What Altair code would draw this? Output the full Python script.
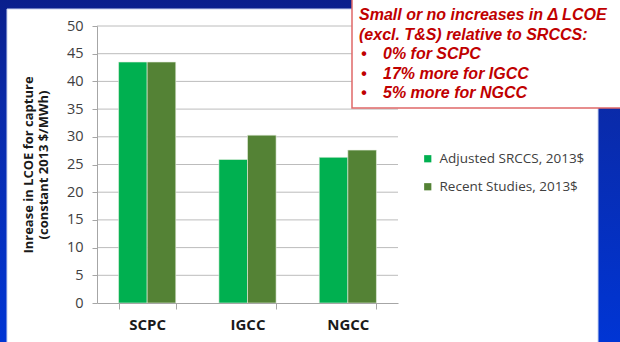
import altair as alt
import pandas as pd

categories = ["SCPC", "IGCC", "NGCC"]
series = ["Adjusted SRCCS,  2013$", "Recent  Studies, 2013$"]
adjusted_srccs = [43.5, 25.9, 26.3]
recent_studies = [43.5, 30.3, 27.6]
colors = ["#00B050", "#548235"]
y_ticks = list(range(0, 51, 5))
y_title = ["Inrease in LCOE for capture", "(constant 2013 $/MWh)"]
note_heading = ["Small or no increases in \u0394 LCOE", "(excl. T&S) relative to SRCCS:"]
note_bullets = ["0% for SCPC", "17% more for IGCC", "5% more for NGCC"]

rows = []
for i, c in enumerate(categories):
    rows.append({"cat": c, "series": series[0], "value": adjusted_srccs[i]})
    rows.append({"cat": c, "series": series[1], "value": recent_studies[i]})
df = pd.DataFrame(rows)
grid_df = pd.DataFrame({"value": y_ticks[1:]})

W, H = 301, 277
LEFT, TOP = 97, 26

one = pd.DataFrame({"k": [0]})

# slide background (blue gradient)
bg = alt.Chart(one).mark_rect(
    fill=alt.Gradient(gradient="linear", x1=0, y1=0, x2=0, y2=1,
                      stops=[alt.GradientStop(color="#0a1f8c", offset=0),
                             alt.GradientStop(color="#0a2aa8", offset=0.3),
                             alt.GradientStop(color="#0035d4", offset=1)])
).encode(x=alt.value(-LEFT), x2=alt.value(620 - LEFT), y=alt.value(-TOP), y2=alt.value(342 - TOP))

panel = alt.Chart(one).mark_rect(fill="white", stroke="#c9d3ee", strokeWidth=1).encode(
    x=alt.value(7 - LEFT), x2=alt.value(598 - LEFT), y=alt.value(9 - TOP), y2=alt.value(345 - TOP))

yscale = alt.Scale(domain=[0, 50], nice=False)
yaxis = alt.Axis(title=y_title, values=y_ticks, titleFont="Open Sans",
                 titleFontWeight="bold", titleFontSize=13, titleColor="#1a1a1a",
                 titlePadding=16, titleLineHeight=15,
                 labelFont="Open Sans", labelFontSize=14.5, labelOverlap=False,
                 labelColor="#404040", labelPadding=9, tickSize=5, tickColor="#a6a6a6",
                 domainColor="#a6a6a6", grid=False, zindex=1)

grid = alt.Chart(grid_df).mark_rule(color="#bcbcbc", strokeWidth=1).encode(
    y=alt.Y("value:Q", scale=yscale, axis=yaxis), x=alt.value(0), x2=alt.value(W))

bars = alt.Chart(df).mark_bar(stroke="#e8f0e0", strokeWidth=0.6).encode(
    x=alt.X("cat:N", sort=categories,
            scale=alt.Scale(paddingInner=0.43, paddingOuter=0.215),
            axis=alt.Axis(title=None, labelAngle=0, labelFont="Open Sans", labelFontWeight="bold",
                          labelFontSize=15, labelColor="#1a1a1a", labelPadding=8,
                          tickBand="extent", tickSize=6, tickColor="#a6a6a6",
                          domainColor="#a6a6a6", grid=False, zindex=1)),
    xOffset=alt.XOffset("series:N", sort=series, scale=alt.Scale(paddingInner=0, paddingOuter=0)),
    y=alt.Y("value:Q", scale=yscale, axis=yaxis),
    color=alt.Color("series:N", sort=series, scale=alt.Scale(domain=series, range=colors),
                    legend=alt.Legend(title=None, orient="none", legendX=324, legendY=126,
                                      symbolType="square", symbolSize=52, symbolStrokeWidth=0,
                                      labelFont="Open Sans", labelFontSize=13.5,
                                      labelColor="#404040", labelOffset=5, rowPadding=13)),
)

box = alt.Chart(one).mark_rect(fill="white", stroke="#e06868", strokeWidth=1.5).encode(
    x=alt.value(352 - LEFT), x2=alt.value(640 - LEFT), y=alt.value(-40), y2=alt.value(108 - TOP))

txt_style = dict(font="Liberation Sans", fontSize=16, fontWeight="bold", fontStyle="italic",
                 color="#c00000", align="left", baseline="middle", lineHeight=19.5)

heading = alt.Chart(one).mark_text(text=note_heading, **txt_style).encode(
    x=alt.value(359 - LEFT), y=alt.value(15 - TOP))
bullet_dots = alt.Chart(one).mark_text(text=["\u2022"] * len(note_bullets), **txt_style).encode(
    x=alt.value(361 - LEFT), y=alt.value(54 - TOP))
bullet_text = alt.Chart(one).mark_text(text=note_bullets, **txt_style).encode(
    x=alt.value(383 - LEFT), y=alt.value(54 - TOP))

chart = alt.layer(bg, panel, grid, bars, box, heading, bullet_dots, bullet_text).properties(
    width=W, height=H,
    autosize=alt.AutoSizeParams(type="none"),
    padding={"left": LEFT, "top": TOP, "right": 620 - LEFT - W, "bottom": 342 - TOP - H},
    background="#0a2aa8",
).configure_view(stroke=None)

chart.save("out.html", embed_options={"renderer": "svg", "actions": False})
